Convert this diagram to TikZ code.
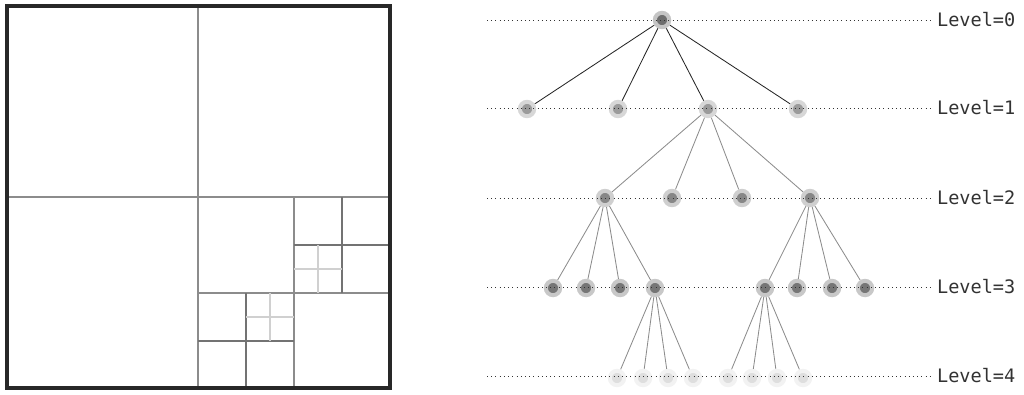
\documentclass[tikz,border=0pt]{standalone}
\usepackage{fontspec}
\setmonofont{DejaVu Sans Mono}
\usepackage{tikz}
\usetikzlibrary{backgrounds}
\definecolor{framedark}{RGB}{40,40,40}
\definecolor{divgray}{RGB}{140,140,140}
\definecolor{subgray}{RGB}{115,115,115}
\definecolor{lightgray}{RGB}{208,208,208}
\definecolor{ballA}{RGB}{110,110,110}
\definecolor{ballB}{RGB}{155,155,155}
\definecolor{ballC}{RGB}{135,135,135}
\definecolor{ballD}{RGB}{118,118,118}
\definecolor{ballE}{RGB}{222,222,222}
\definecolor{textgray}{RGB}{50,50,50}

\begin{document}
\begin{tikzpicture}[x=0.25mm,y=-0.25mm,
  outer/.style={draw=framedark,line width=2.4pt},
  div/.style={draw=divgray,line width=1.6pt},
  subdiv/.style={draw=subgray,line width=1.6pt},
  fine/.style={draw=lightgray,line width=1.6pt},
  ball/.style={circle,inner sep=0pt,minimum size=3.6mm,fill=#1,draw=#1!40,line width=1mm},
  topedge/.style={draw=black!85,line width=0.6pt},
  edge/.style={draw=divgray,line width=0.6pt},
  dotline/.style={draw=black!80,line width=0.7pt,dash pattern=on 0.7pt off 2.3pt},
  lvl/.style={anchor=west,inner sep=2pt,text=textgray,font=\ttfamily\fontsize{13.2}{15}\selectfont},
]
\useasboundingbox (0,0) rectangle (1024,394);

% quadtree
\draw[div] (198,6) -- (198,388) (7,197) -- (390,197);
\draw[div] (294,197) -- (294,388) (198,293) -- (390,293);
\draw[subdiv] (342,197) -- (342,293) (294,245) -- (390,245);
\draw[subdiv] (246,293) -- (246,388) (198,341) -- (294,341);
\draw[fine] (318,245) -- (318,293) (294,269) -- (342,269);
\draw[fine] (270,293) -- (270,341) (246,317) -- (294,317);
\draw[outer] (7,6) rectangle (390,388);

% tree nodes
\node[ball=ballA] (r) at (662,20) {};

\node[ball=ballB] (l1a) at (527,109) {};
\node[ball=ballB] (l1b) at (618,109) {};
\node[ball=ballB] (l1c) at (708,109) {};
\node[ball=ballB] (l1d) at (798,109) {};

\node[ball=ballC] (l2a) at (605,198) {};
\node[ball=ballC] (l2b) at (672,198) {};
\node[ball=ballC] (l2c) at (742,198) {};
\node[ball=ballC] (l2d) at (810,198) {};

\node[ball=ballD] (l3a) at (553,288) {};
\node[ball=ballD] (l3b) at (586,288) {};
\node[ball=ballD] (l3c) at (620,288) {};
\node[ball=ballD] (l3d) at (655,288) {};
\node[ball=ballD] (l3e) at (765,288) {};
\node[ball=ballD] (l3f) at (797,288) {};
\node[ball=ballD] (l3g) at (832,288) {};
\node[ball=ballD] (l3h) at (865,288) {};

\node[ball=ballE] (l4a) at (617,378) {};
\node[ball=ballE] (l4b) at (643,378) {};
\node[ball=ballE] (l4c) at (668,378) {};
\node[ball=ballE] (l4d) at (693,378) {};
\node[ball=ballE] (l4e) at (728,378) {};
\node[ball=ballE] (l4f) at (752,378) {};
\node[ball=ballE] (l4g) at (777,378) {};
\node[ball=ballE] (l4h) at (803,378) {};

% tree edges
\begin{scope}[on background layer]
  \foreach \c in {a,b,c,d} \draw[topedge] (r) -- (l1\c);
  \foreach \c in {a,b,c,d} \draw[edge] (l1c) -- (l2\c);
  \foreach \c in {a,b,c,d} \draw[edge] (l2a) -- (l3\c);
  \foreach \c in {e,f,g,h} \draw[edge] (l2d) -- (l3\c);
  \foreach \c in {a,b,c,d} \draw[edge] (l3d) -- (l4\c);
  \foreach \c in {e,f,g,h} \draw[edge] (l3e) -- (l4\c);
\end{scope}

% level lines
\foreach \i/\y in {0/20,1/108,2/198,3/287,4/376} {
  \coordinate (s\i) at (487,\y);
  \node[lvl] (t\i) at (934,\y) {Level=\i};
  \draw[dotline] (s\i) -- (t\i);
}

\end{tikzpicture}
\end{document}
